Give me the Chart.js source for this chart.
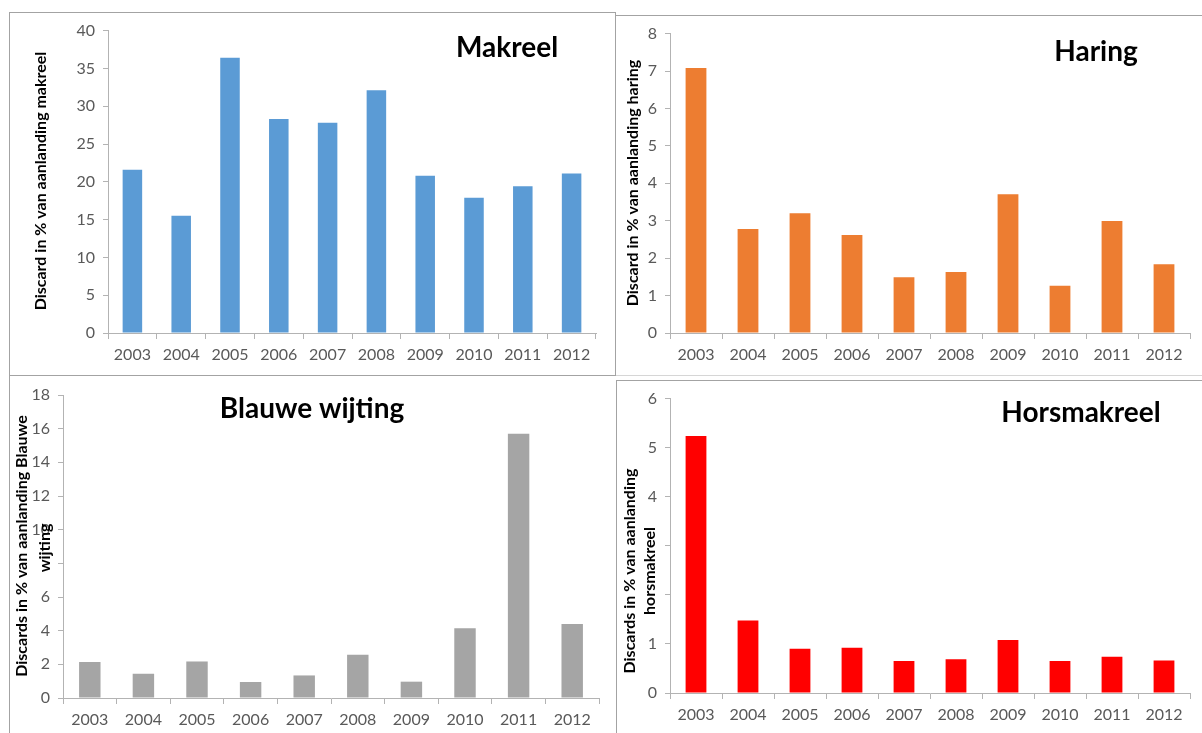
<!DOCTYPE html>
<html>
<head>
<meta charset="utf-8">
<script src="https://cdn.jsdelivr.net/npm/chart.js@4.4.1/dist/chart.umd.min.js"></script>
<style>
  html, body { margin: 0; padding: 0; background: #ffffff; }
  body { width: 1202px; height: 733px; position: relative; overflow: hidden; }
  canvas { position: absolute; }
  .line { position: absolute; background: #a3a3a3; }
</style>
</head>
<body>
<!-- panel frames -->
<div class="line" style="left:9px; top:12px; width:607px; height:1px;"></div>
<div class="line" style="left:9px; top:12px; width:1px; height:721px;"></div>
<div class="line" style="left:615px; top:12px; width:1px; height:364px;"></div>
<div class="line" style="left:615px; top:15px; width:587px; height:1px;"></div>
<div class="line" style="left:9px; top:375px; width:607px; height:1px;"></div>
<div class="line" style="left:616px; top:375px; width:586px; height:1px; background:#d6d6d6;"></div>
<div class="line" style="left:616px; top:380px; width:586px; height:1px;"></div>
<div class="line" style="left:616px; top:380px; width:1px; height:353px;"></div>

<canvas id="makreel" width="604" height="362" style="left:10px; top:13px;"></canvas>
<canvas id="haring" width="586" height="359" style="left:616px; top:16px;"></canvas>
<canvas id="blauwe" width="605" height="357" style="left:10px; top:376px;"></canvas>
<canvas id="horsmakreel" width="585" height="352" style="left:617px; top:381px;"></canvas>

<script>
// Discard as a percentage of landings, per year
const years = ['2003', '2004', '2005', '2006', '2007', '2008', '2009', '2010', '2011', '2012'];

const makreelValues     = [21.6, 15.5, 36.4, 28.3, 27.8, 32.1, 20.8, 17.9, 19.4, 21.1];
const haringValues      = [7.08, 2.78, 3.2, 2.62, 1.49, 1.63, 3.71, 1.26, 2.99, 1.84];
const blauweValues      = [2.14, 1.44, 2.17, 0.95, 1.34, 2.57, 0.97, 4.15, 15.7, 4.39];
const horsmakreelValues = [5.24, 1.48, 0.9, 0.92, 0.65, 0.69, 1.08, 0.65, 0.74, 0.66];

// y-axis ranges
const makreelAxis     = { max: 40, step: 5 };
const haringAxis      = { max: 8,  step: 1 };
const blauweAxis      = { max: 18, step: 2 };
const horsmakreelAxis = { max: 6,  step: 1 };

// tick labels covered by the wrapped axis titles
const blauweHiddenTicks      = [8];
const horsmakreelHiddenTicks = [2, 3];

const FONT = 'Lato, "Open Sans", sans-serif';
const AXIS_GREY = '#b3b3b3';

// Draws the panel heading and the rotated y-axis title lines
const panelText = {
  id: 'panelText',
  afterDraw(chart, args, opts) {
    const ctx = chart.ctx;
    ctx.save();
    ctx.fillStyle = '#000000';
    ctx.textAlign = 'center';
    ctx.textBaseline = 'alphabetic';
    ctx.font = 'bold 28px ' + FONT;
    ctx.fillText(opts.heading, opts.headingX, opts.headingY);

    ctx.font = 'bold 16px ' + FONT;
    ctx.textBaseline = 'middle';
    opts.axisLines.forEach(line => {
      ctx.save();
      ctx.translate(line.x, line.y);
      ctx.rotate(-Math.PI / 2);
      ctx.fillText(line.text, 0, 0);
      ctx.restore();
    });
    ctx.restore();
  }
};

function makeChart(id, values, color, axis, hidden, frame, text) {
  const canvas = document.getElementById(id);
  return new Chart(canvas, {
    type: 'bar',
    data: {
      labels: years,
      datasets: [{
        data: values,
        backgroundColor: color,
        borderWidth: 0,
        barPercentage: 0.4,
        categoryPercentage: 1.0
      }]
    },
    options: {
      responsive: false,
      animation: false,
      devicePixelRatio: 1,
      layout: { padding: { left: 0, top: frame.top, right: frame.right, bottom: 0 } },
      plugins: {
        legend: { display: false },
        tooltip: { enabled: false },
        title: { display: false },
        panelText: text
      },
      scales: {
        x: {
          grid: {
            offset: true,
            drawOnChartArea: false,
            drawTicks: true,
            tickLength: 6,
            color: AXIS_GREY
          },
          border: { color: AXIS_GREY, width: 1 },
          ticks: {
            color: '#595959',
            font: { family: FONT, size: 16 },
            padding: 6,
            maxRotation: 0
          },
          afterFit(scale) { scale.height = frame.xHeight; }
        },
        y: {
          min: 0,
          max: axis.max,
          grid: {
            drawOnChartArea: false,
            drawTicks: true,
            tickLength: 5,
            color: AXIS_GREY
          },
          border: { color: AXIS_GREY, width: 1 },
          ticks: {
            stepSize: axis.step,
            color: '#595959',
            font: { family: FONT, size: 16 },
            padding: 8,
            callback: v => hidden.includes(v) ? '' : String(v)
          },
          afterFit(scale) { scale.width = frame.yWidth; }
        }
      }
    },
    plugins: [panelText]
  });
}

makeChart('makreel', makreelValues, '#5b9bd5', makreelAxis, [],
  { top: 17, right: 18, yWidth: 98, xHeight: 42 },
  { heading: 'Makreel', headingX: 497, headingY: 44,
    axisLines: [{ text: 'Discard in % van aanlanding makreel', x: 31, y: 168 }] });

makeChart('haring', haringValues, '#ed7d31', haringAxis, [],
  { top: 17, right: 12, yWidth: 54, xHeight: 42 },
  { heading: 'Haring', headingX: 480, headingY: 45,
    axisLines: [{ text: 'Discard in % van aanlanding haring', x: 17, y: 167 }] });

makeChart('blauwe', blauweValues, '#a5a5a5', blauweAxis, blauweHiddenTicks,
  { top: 19, right: 16, yWidth: 53, xHeight: 35 },
  { heading: 'Blauwe wijting', headingX: 302, headingY: 42,
    axisLines: [
      { text: 'Discards in % van aanlanding Blauwe', x: 12, y: 170 },
      { text: 'wijting', x: 35, y: 172 }
    ] });

makeChart('horsmakreel', horsmakreelValues, '#ff0000', horsmakreelAxis, horsmakreelHiddenTicks,
  { top: 13, right: 12, yWidth: 53, xHeight: 40 },
  { heading: 'Horsmakreel', headingX: 464, headingY: 41,
    axisLines: [
      { text: 'Discards in % van aanlanding', x: 13, y: 190 },
      { text: 'horsmakreel', x: 33, y: 190 }
    ] });
</script>
</body>
</html>
